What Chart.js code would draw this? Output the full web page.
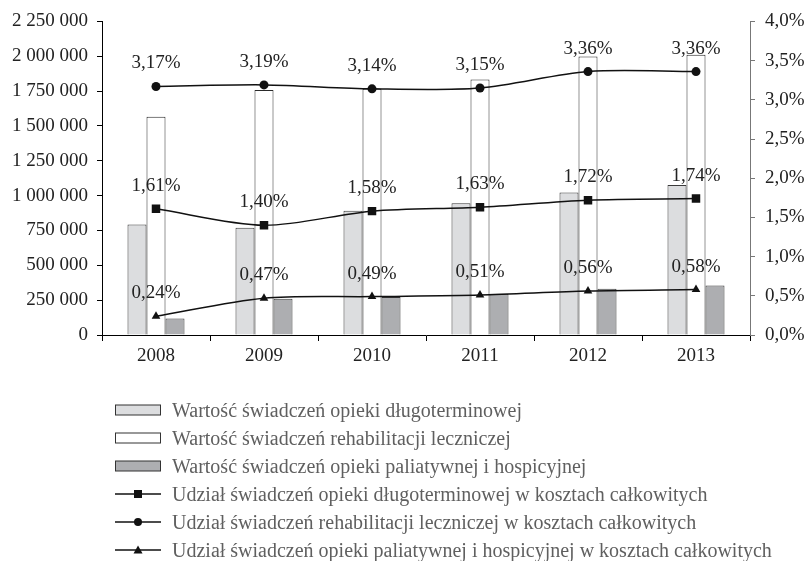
<!DOCTYPE html>
<html>
<head>
<meta charset="utf-8">
<script src="https://cdn.jsdelivr.net/npm/chart.js@4.4.1/dist/chart.umd.min.js"></script>
<style>
  html, body { margin: 0; padding: 0; background: #fff; }
  #wrap { position: relative; width: 808px; height: 561px; overflow: hidden; }
  canvas { position: absolute; left: 0; top: 0; }
  #legend { position: absolute; left: 115px; top: 396px; font-family: "Liberation Serif", "Times New Roman", serif; font-size: 20px; color: #5f5f5f; }
  .row { height: 28px; display: flex; align-items: center; white-space: nowrap; }
  .sw { width: 46px; height: 14px; margin-right: 11px; flex: none; }
</style>
</head>
<body>
<div id="wrap">
  <canvas id="c" width="808" height="561"></canvas>
  <div id="legend"></div>
</div>
<script>
const categories = ['2008', '2009', '2010', '2011', '2012', '2013'];

const longTermValues   = [793000, 769000, 892000, 946000, 1022000, 1077000];
const rehabValues      = [1566000, 1758000, 1767000, 1833000, 1999000, 2011000];
const palliativeValues = [118000, 260000, 272000, 296000, 331000, 355000];

const longTermShare   = [1.61, 1.40, 1.58, 1.63, 1.72, 1.74];
const rehabShare      = [3.17, 3.19, 3.14, 3.15, 3.36, 3.36];
const palliativeShare = [0.24, 0.47, 0.49, 0.51, 0.56, 0.58];

const leftTicks  = [0, 250000, 500000, 750000, 1000000, 1250000, 1500000, 1750000, 2000000, 2250000];
const rightTicks = [0, 0.5, 1.0, 1.5, 2.0, 2.5, 3.0, 3.5, 4.0];

const seriesLabels = [
  'Wartość świadczeń opieki długoterminowej',
  'Wartość świadczeń rehabilitacji leczniczej',
  'Wartość świadczeń opieki paliatywnej i hospicyjnej',
  'Udział świadczeń opieki długoterminowej w kosztach całkowitych',
  'Udział świadczeń rehabilitacji leczniczej w kosztach całkowitych',
  'Udział świadczeń opieki paliatywnej i hospicyjnej w kosztach całkowitych'
];

const FONT = '"Liberation Serif", "Times New Roman", serif';
const fmtSpace = v => String(Math.round(v)).replace(/\B(?=(\d{3})+(?!\d))/g, ' ');
const fmtPct1 = v => v.toFixed(1).replace('.', ',') + '%';
const fmtPct2 = v => v.toFixed(2).replace('.', ',') + '%';

const barCommon = { type: 'bar', yAxisID: 'y', borderWidth: 1, borderSkipped: 'bottom', order: 2, barPercentage: 1.0, categoryPercentage: 0.528 };
const lineCommon = { type: 'line', yAxisID: 'y1', borderColor: '#111', backgroundColor: '#111', borderWidth: 1.5, tension: 0.3, order: 0, pointBorderWidth: 0, pointHoverRadius: 0 };

const datasets = [
  Object.assign({}, barCommon, { label: seriesLabels[0], data: longTermValues, backgroundColor: '#dcdddf', borderColor: '#3a3a3a' }),
  Object.assign({}, barCommon, { label: seriesLabels[1], data: rehabValues, backgroundColor: '#ffffff', borderColor: '#2a2a2a' }),
  Object.assign({}, barCommon, { label: seriesLabels[2], data: palliativeValues, backgroundColor: '#adaeb1', borderColor: '#3a3a3a' }),
  Object.assign({}, lineCommon, { label: seriesLabels[3], data: longTermShare, pointStyle: 'rect', pointRadius: 6 }),
  Object.assign({}, lineCommon, { label: seriesLabels[4], data: rehabShare, pointStyle: 'circle', pointRadius: 4.5 }),
  Object.assign({}, lineCommon, { label: seriesLabels[5], data: palliativeShare, pointStyle: 'triangle', pointRadius: 5 })
];

const labelPlugin = {
  id: 'pctLabels',
  afterDatasetsDraw(chart) {
    const ctx = chart.ctx;
    ctx.save();
    ctx.font = '19px ' + FONT;
    ctx.fillStyle = '#222';
    ctx.textAlign = 'center';
    ctx.textBaseline = 'alphabetic';
    chart.data.datasets.forEach((ds, i) => {
      if (ds.type !== 'line') return;
      const meta = chart.getDatasetMeta(i);
      meta.data.forEach((pt, j) => {
        ctx.fillText(fmtPct2(ds.data[j]), pt.x, pt.y - 18);
      });
    });
    ctx.restore();
  }
};

new Chart(document.getElementById('c'), {
  data: { labels: categories, datasets },
  plugins: [labelPlugin],
  options: {
    responsive: false,
    animation: false,
    devicePixelRatio: 1,
    layout: { padding: { top: 17, left: 0, right: 0, bottom: 0 } },
    plugins: { legend: { display: false }, tooltip: { enabled: false } },
    scales: {
      x: {
        offset: true,
        grid: { display: true, drawOnChartArea: false, drawTicks: true, tickLength: 6, color: '#000', offset: true },
        border: { display: true, color: '#000', width: 1 },
        ticks: { font: { family: FONT, size: 19 }, color: '#222', padding: 4, maxRotation: 0 },
        afterFit(s) { s.height = 226; }
      },
      y: {
        position: 'left',
        min: 0, max: 2250000,
        afterBuildTicks(s) { s.ticks = leftTicks.map(v => ({ value: v })); },
        grid: { display: true, drawOnChartArea: false, drawTicks: true, tickLength: 5, color: '#000' },
        border: { display: true, color: '#000', width: 1 },
        ticks: { font: { family: FONT, size: 19 }, color: '#222', padding: 9, callback: v => fmtSpace(v) },
        afterFit(s) { s.width = 102; }
      },
      y1: {
        position: 'right',
        min: 0, max: 4,
        afterBuildTicks(s) { s.ticks = rightTicks.map(v => ({ value: v })); },
        grid: { display: true, drawOnChartArea: false, drawTicks: true, tickLength: 5, color: '#777' },
        border: { display: true, color: '#777', width: 1 },
        ticks: { font: { family: FONT, size: 19 }, color: '#222', padding: 10, callback: v => fmtPct1(v) },
        afterFit(s) { s.width = 58; }
      }
    }
  }
});

// HTML legend built from the datasets
const legend = document.getElementById('legend');
const markerSvg = {
  rect: '<rect x="19" y="3" width="8" height="8" fill="#111"/>',
  circle: '<circle cx="23" cy="7" r="4" fill="#111"/>',
  triangle: '<polygon points="23,2.5 27.5,10.5 18.5,10.5" fill="#111"/>'
};
datasets.forEach(ds => {
  const row = document.createElement('div');
  row.className = 'row';
  let sw;
  if (ds.type === 'bar') {
    sw = '<svg class="sw" width="46" height="14"><rect x="0.5" y="2" width="45" height="10" fill="' + ds.backgroundColor + '" stroke="#333" stroke-width="1"/></svg>';
  } else {
    sw = '<svg class="sw" width="46" height="14"><line x1="0" y1="7" x2="46" y2="7" stroke="#111" stroke-width="1.5"/>' + markerSvg[ds.pointStyle] + '</svg>';
  }
  row.innerHTML = sw + '<span></span>';
  row.querySelector('span').textContent = ds.label;
  legend.appendChild(row);
});
</script>
</body>
</html>
